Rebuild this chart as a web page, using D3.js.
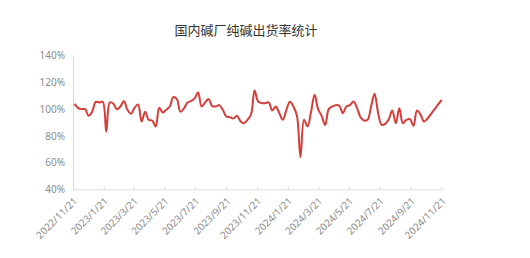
<!DOCTYPE html>
<html>
<head>
<meta charset="utf-8">
<script src="https://cdn.jsdelivr.net/npm/d3@7"></script>
<style>
  body { margin: 0; background: #fff; }
  svg text { font-family: "Noto Sans", "Noto Sans CJK SC", sans-serif; }
</style>
</head>
<body>
<svg id="chart" width="530" height="258"></svg>
<script>
// weekly shipment rate (%), Thursdays from 2022/11/24
const startDate = '2022-11-24'
const rates = [
  104, 101, 100, 100, 95, 98, 105.5, 105, 105.5, 83,
  105, 104, 100, 102, 106, 99.5, 96.5, 101, 103.5, 90.7,
  98, 92, 91.5, 87, 101, 97.5, 99.5, 102, 109, 107.5,
  98, 100.5, 105, 106, 108, 112.5, 102, 105, 107.5, 102.3,
  102, 103, 99.5, 94.5, 94, 93, 95, 91, 89.5, 92,
  96, 114, 105.7, 104.5, 104.5, 105, 99, 102, 97, 92,
  99.3, 105.5, 102, 95, 64, 92, 87, 98, 110.7, 100,
  95, 88.2, 100, 102, 103, 102.5, 97, 102, 103, 105.7,
  101, 94, 91.5, 92, 102, 111.5, 97, 88.2, 89, 92.5,
  99, 89.5, 100.7, 89.5, 92, 92.5, 87.5, 99, 96, 90.7,
  93, 96.5, 100, 103.5, 107
]
const xTicks = ['2022-11-21', '2023-01-21', '2023-03-21', '2023-05-21', '2023-07-21',
  '2023-09-21', '2023-11-21', '2024-01-21', '2024-03-21', '2024-05-21',
  '2024-07-21', '2024-09-21', '2024-11-21']
const yTicks = [40, 60, 80, 100, 120, 140]
const title = '国内碱厂纯碱出货率统计'

const parse = d3.timeParse('%Y-%m-%d')
const fmt = d3.timeFormat('%Y/%-m/%-d')
const t0 = parse(startDate)
const data = rates.map((v, i) => ({ date: d3.timeDay.offset(t0, i * 7), value: v }))
const tickDates = xTicks.map(parse)

let svg = d3.select('#chart')
let plotLeft = 73, plotRight = 441.7, plotTop = 55.7, plotBottom = 189.3

let x = d3.scaleTime()
  .domain([tickDates[0], tickDates[tickDates.length - 1]])
  .range([plotLeft, plotRight])
let y = d3.scaleLinear()
  .domain([40, 140])
  .range([plotBottom, plotTop])

svg.append('text')
  .attr('x', 246)
  .attr('y', 35)
  .attr('text-anchor', 'middle')
  .attr('fill', '#333')
  .style('font-size', '13px')
  .style('font-family', '"Noto Sans CJK SC", sans-serif')
  .text(title)

// y axis
let yAxis = svg.append('g')
  .attr('transform', `translate(${plotLeft},0)`)
  .call(d3.axisLeft(y).tickValues(yTicks).tickSize(0).tickPadding(8).tickFormat(d => d + '%'))
yAxis.select('.domain').attr('stroke', '#d9d9d9')
yAxis.selectAll('text').attr('fill', '#8c8c8c').style('font-size', '10px')

// x axis
let xAxis = svg.append('g')
  .attr('transform', `translate(0,${plotBottom})`)
  .call(d3.axisBottom(x).tickValues(tickDates).tickSizeInner(-3).tickSizeOuter(0).tickFormat(fmt))
xAxis.select('.domain').attr('stroke', '#d9d9d9')
xAxis.selectAll('line').attr('stroke', '#d9d9d9')
xAxis.selectAll('text')
  .attr('fill', '#8c8c8c')
  .style('font-size', '10px')
  .attr('text-anchor', 'end')
  .attr('dy', '0.35em')
  .attr('transform', 'translate(2,10) rotate(-45)')
  .attr('y', 0)

let line = d3.line()
  .x(d => x(d.date))
  .y(d => y(d.value))
  .curve(d3.curveCatmullRom)

svg.append('path')
  .datum(data)
  .attr('d', line)
  .attr('fill', 'none')
  .attr('stroke', '#d43d3a')
  .attr('stroke-width', 2)
  .attr('stroke-linejoin', 'round')
</script>
</body>
</html>
